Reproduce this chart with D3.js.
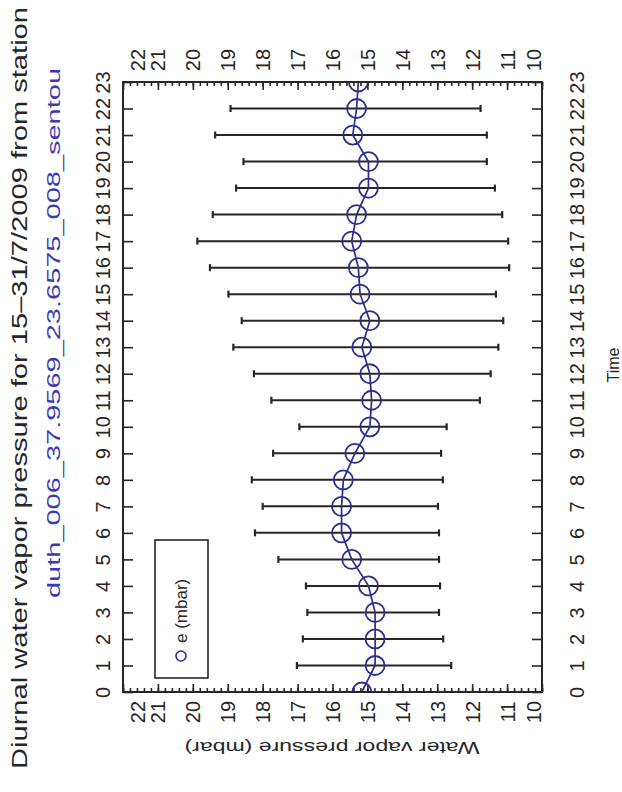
<!DOCTYPE html>
<html><head><meta charset="utf-8">
<script src="https://cdn.jsdelivr.net/npm/d3@7"></script>
<style>body{margin:0;background:#fff}svg{display:block}</style>
</head><body>
<svg id="chart" width="622" height="792"></svg>
<script>
// Hourly means and spread of water vapour pressure (mbar)
const hours = d3.range(0, 24);
const meanE = [15.16, 14.78, 14.78, 14.78, 14.97, 15.45, 15.74, 15.74, 15.69, 15.36, 14.93, 14.88,
               14.93, 15.16, 14.93, 15.21, 15.26, 15.45, 15.31, 14.97, 14.97, 15.42, 15.31, 15.26];
const highE = [null, 17.02, 16.85, 16.72, 16.76, 17.55, 18.22, 18.00, 18.31, 17.70, 16.95, 17.75,
               18.25, 18.84, 18.60, 18.98, 19.51, 19.87, 19.43, 18.76, 18.55, 19.36, 18.92, null];
const lowE  = [null, 12.60, 12.83, 12.95, 12.92, 12.95, 12.95, 12.98, 12.84, 12.89, 12.73, 11.78,
               11.47, 11.25, 11.11, 11.32, 10.94, 10.97, 11.14, 11.35, 11.58, 11.58, 11.76, null];
const pressureTicks = d3.range(10, 23);
const pressureMinor = d3.range(100, 221, 2).map(v => v / 10);

const titleText = "Diurnal water vapor pressure for 15\u201331/7/2009 from station";
const stationText = "duth_006_37.9569_23.6575_008_sentou";
const legendLabel = "e (mbar)";
const timeTitle = "Time";
const pressureTitle = "Water vapor pressure (mbar)";

const svg = d3.select("#chart");
const frame = {left: 123, right: 542, top: 82, bottom: 692};
const font = "'Liberation Sans', Arial, Helvetica, sans-serif";
const ink = "#262626";
const navy = "#2e2e8e";

const y = d3.scaleLinear().domain([0, 23]).range([frame.bottom, frame.top]);
const x = d3.scaleLinear().domain([22, 10]).range([frame.left, frame.right]);

// text turned to read bottom-to-top (or any given angle) around its centre
function turnedText(parent, cx, cy, str, size, color, angle = -90) {
  return parent.append("text")
    .attr("transform", `translate(${cx},${cy}) rotate(${angle})`)
    .attr("text-anchor", "middle")
    .attr("dominant-baseline", "central")
    .style("font-family", font)
    .style("font-size", size + "px")
    .attr("fill", color)
    .text(str);
}

function styleAxis(g, dx, dy, shift) {
  g.select(".domain").remove();
  g.selectAll(".tick line").attr("stroke", ink).attr("stroke-width", 1.6);
  g.selectAll(".tick text")
    .attr("x", null).attr("y", null).attr("dy", null)
    .attr("text-anchor", "middle")
    .attr("dominant-baseline", "central")
    .attr("transform", d => `translate(${dx + (shift ? shift(d) : 0)},${dy}) rotate(-90)`)
    .style("font-family", font).style("font-size", "20px")
    .attr("fill", ink);
}

// time axes (left and right edges)
svg.append("g").attr("transform", `translate(${frame.left},0)`)
  .call(d3.axisLeft(y).tickValues(hours).tickSizeInner(-10).tickSizeOuter(0))
  .call(g => styleAxis(g, -20, 0));
svg.append("g").attr("transform", `translate(${frame.right},0)`)
  .call(d3.axisRight(y).tickValues(hours).tickSizeInner(-10).tickSizeOuter(0))
  .call(g => styleAxis(g, 35, 0));

// pressure axes (top and bottom edges) with minor ticks
const edgeShift = d => d === 22 ? 14 : d === 10 ? -9 : 0;
svg.append("g").attr("transform", `translate(0,${frame.top})`)
  .call(d3.axisTop(x).tickValues(pressureMinor).tickSizeInner(-4).tickSizeOuter(0).tickFormat(""))
  .call(g => styleAxis(g, 0, 0));
svg.append("g").attr("transform", `translate(0,${frame.top})`)
  .call(d3.axisTop(x).tickValues(pressureTicks).tickSizeInner(-8).tickSizeOuter(0).tickFormat(d3.format("d")))
  .call(g => styleAxis(g, 0, -22, edgeShift));
svg.append("g").attr("transform", `translate(0,${frame.bottom})`)
  .call(d3.axisBottom(x).tickValues(pressureMinor).tickSizeInner(-4).tickSizeOuter(0).tickFormat(""))
  .call(g => styleAxis(g, 0, 0));
svg.append("g").attr("transform", `translate(0,${frame.bottom})`)
  .call(d3.axisBottom(x).tickValues(pressureTicks).tickSizeInner(-8).tickSizeOuter(0).tickFormat(d3.format("d")))
  .call(g => styleAxis(g, 0, 20, edgeShift));

// plot data, clipped to the frame
svg.append("clipPath").attr("id", "plotClip").append("rect")
  .attr("x", frame.left).attr("y", frame.top)
  .attr("width", frame.right - frame.left).attr("height", frame.bottom - frame.top);
const plot = svg.append("g").attr("clip-path", "url(#plotClip)");

const rows = hours.map((h, i) => ({h, mean: meanE[i], high: highE[i], low: lowE[i]}));
const bars = rows.filter(d => d.high != null);

plot.selectAll("line.err").data(bars).join("line").attr("class", "err")
  .attr("x1", d => x(d.high)).attr("x2", d => x(d.low))
  .attr("y1", d => y(d.h)).attr("y2", d => y(d.h))
  .attr("stroke", ink).attr("stroke-width", 2);
plot.selectAll("line.capHi").data(bars).join("line").attr("class", "capHi")
  .attr("x1", d => x(d.high)).attr("x2", d => x(d.high))
  .attr("y1", d => y(d.h) - 3.5).attr("y2", d => y(d.h) + 3.5)
  .attr("stroke", ink).attr("stroke-width", 2.2);
plot.selectAll("line.capLo").data(bars).join("line").attr("class", "capLo")
  .attr("x1", d => x(d.low)).attr("x2", d => x(d.low))
  .attr("y1", d => y(d.h) - 3.5).attr("y2", d => y(d.h) + 3.5)
  .attr("stroke", ink).attr("stroke-width", 2.2);

plot.append("path").datum(rows)
  .attr("d", d3.line().x(d => x(d.mean)).y(d => y(d.h)))
  .attr("fill", "none").attr("stroke", navy).attr("stroke-width", 1.7);
plot.selectAll("circle.pt").data(rows).join("circle").attr("class", "pt")
  .attr("cx", d => x(d.mean)).attr("cy", d => y(d.h)).attr("r", 9.5)
  .attr("fill", "none").attr("stroke", navy).attr("stroke-width", 1.8);

// frame
svg.append("rect")
  .attr("x", frame.left).attr("y", frame.top)
  .attr("width", frame.right - frame.left).attr("height", frame.bottom - frame.top)
  .attr("fill", "none").attr("stroke", ink).attr("stroke-width", 2);

// legend
const legend = svg.append("g");
legend.append("rect").attr("x", 155).attr("y", 540).attr("width", 53).attr("height", 138)
  .attr("fill", "#fff").attr("stroke", ink).attr("stroke-width", 1.6);
legend.append("circle").attr("cx", 181).attr("cy", 656).attr("r", 5)
  .attr("fill", "none").attr("stroke", navy).attr("stroke-width", 1.6);
legend.append("text")
  .attr("transform", "translate(181,643) rotate(-90)")
  .attr("text-anchor", "start").attr("dominant-baseline", "central")
  .style("font-family", font).style("font-size", "17px").attr("fill", ink)
  .text(legendLabel);

// titles
turnedText(svg, 19, 388, titleText, 22, ink).attr("textLength", 762).attr("lengthAdjust", "spacingAndGlyphs");
turnedText(svg, 53, 333, stationText, 19, "#3a3ab4").attr("textLength", 530).attr("lengthAdjust", "spacingAndGlyphs");
turnedText(svg, 613, 365, timeTitle, 16, ink);
turnedText(svg, 332, 747, pressureTitle, 17, ink, 180).attr("textLength", 295).attr("lengthAdjust", "spacingAndGlyphs");
</script>
</body></html>
